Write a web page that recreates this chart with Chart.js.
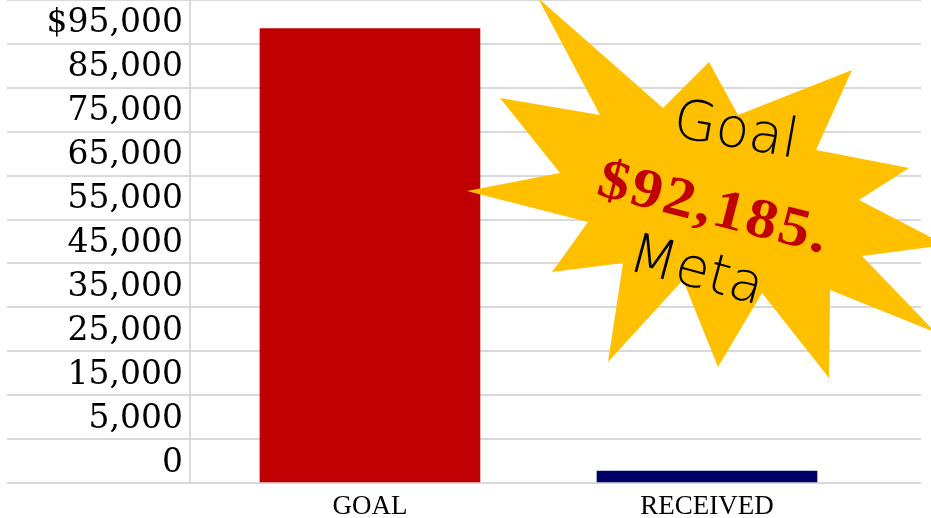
<!DOCTYPE html>
<html>
<head>
<meta charset="utf-8">
<script src="https://cdn.jsdelivr.net/npm/chart.js@4/dist/chart.umd.min.js"></script>
<style>
  html, body { margin: 0; padding: 0; background: #fff; }
  #wrap { width: 931px; height: 518px; position: relative; }
</style>
</head>
<body>
<div id="wrap"><canvas id="chart"></canvas></div>
<script>
const categories = ['GOAL', 'RECEIVED'];
const amounts = [92185, 2400];
const barColors = ['#c00000', '#000066'];
const yTickLabels = ['0', '5,000', '15,000', '25,000', '35,000', '45,000', '55,000', '65,000', '75,000', '85,000', '$95,000'];
const burstText = ['Goal', '$92,185.', 'Meta'];

// starburst callout outline, canvas pixels
const burstPoints = [
    [538, -2], [663, 108], [709, 62], [738, 115], [852, 70], [816, 150],
    [909, 168], [859, 200], [946, 245], [862, 256], [935, 332], [830, 290],
    [829, 378], [762, 293], [718, 367], [683, 280], [608, 362], [623, 263],
    [552, 272], [588, 222], [467, 191], [560, 173], [500, 98], [600, 115]
];

function drawTilted(ctx, text, x, y, deg, font, color, sx, spacing) {
    ctx.save();
    ctx.translate(x, y);
    ctx.rotate(deg * Math.PI / 180);
    ctx.scale(sx, 1);
    ctx.font = font;
    ctx.fillStyle = color;
    ctx.textAlign = 'center';
    ctx.textBaseline = 'alphabetic';
    ctx.letterSpacing = spacing;
    ctx.fillText(text, 0, 0);
    ctx.restore();
}

const burstPlugin = {
    id: 'burst',
    afterDatasetsDraw(chart) {
        const ctx = chart.ctx;
        ctx.save();
        ctx.beginPath();
        burstPoints.forEach(([x, y], i) => i ? ctx.lineTo(x, y) : ctx.moveTo(x, y));
        ctx.closePath();
        ctx.fillStyle = '#ffc000';
        ctx.fill();
        ctx.restore();

        const hand = '300 55px "DejaVu Sans", sans-serif';
        drawTilted(ctx, burstText[0], 733, 147, 10, hand, '#000', 1, '0px');
        drawTilted(ctx, burstText[1], 710, 224, 14.5, 'bold 56px "Liberation Serif", "Times New Roman", serif', '#c00000', 1.12, '2px');
        drawTilted(ctx, burstText[2], 692, 287, 15, hand, '#000', 1, '0px');
    }
};

new Chart(document.getElementById('chart'), {
    type: 'bar',
    data: {
        datasets: [{
            data: categories.map((c, i) => ({ x: i, y: amounts[i] })),
            backgroundColor: barColors,
            borderWidth: 0,
            barThickness: 220
        }]
    },
    options: {
        responsive: true,
        maintainAspectRatio: false,
        animation: false,
        layout: { padding: { left: 0, right: 10, top: 0, bottom: 0 } },
        plugins: {
            legend: { display: false },
            tooltip: { enabled: false }
        },
        scales: {
            x: {
                type: 'linear',
                offset: false,
                min: -0.534,
                max: 1.635,
                grid: { display: false, drawTicks: false, offset: false },
                border: { display: false },
                afterBuildTicks: (s) => { s.ticks = categories.map((c, i) => ({ value: i })); },
                afterFit: (s) => { s.height = 35; },
                ticks: {
                    autoSkip: false,
                    maxRotation: 0,
                    padding: 8,
                    color: '#000',
                    font: { family: '"Liberation Serif", "Times New Roman", serif', size: 27 },
                    callback: (v) => categories[v] ?? ''
                }
            },
            y: {
                min: 0,
                max: 98000,
                bounds: 'data',
                afterBuildTicks: (s) => { s.ticks = s.ticks.filter(t => t.value <= s.max); },
                afterFit: (s) => { s.width = 190; s.paddingTop = 0; s.paddingBottom = 0; },
                grid: { color: '#d9d9d9', lineWidth: 2, tickLength: 183, tickColor: '#d9d9d9' },
                border: { color: '#d9d9d9', width: 2 },
                ticks: {
                    stepSize: 8950,
                    includeBounds: false,
                    padding: -176,
                    labelOffset: -20,
                    color: '#000',
                    font: { family: '"DejaVu Serif", serif', size: 33 },
                    callback: (v, i) => yTickLabels[i] ?? ''
                }
            }
        }
    },
    plugins: [burstPlugin]
});
</script>
</body>
</html>
